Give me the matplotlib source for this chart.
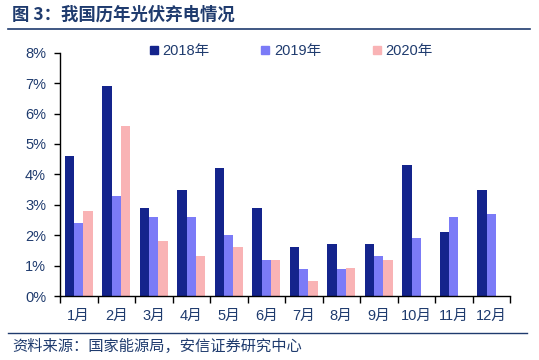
import numpy as np
import matplotlib.pyplot as plt
from matplotlib.lines import Line2D

plt.rcParams['font.family'] = ['Liberation Sans', 'Noto Sans CJK SC', 'DejaVu Sans']

months = ['1月', '2月', '3月', '4月', '5月', '6月', '7月', '8月', '9月', '10月', '11月', '12月']
curtail_2018 = [4.6, 6.9, 2.9, 3.5, 4.2, 2.9, 1.6, 1.7, 1.7, 4.3, 2.1, 3.5]
curtail_2019 = [2.4, 3.3, 2.6, 2.6, 2.0, 1.2, 0.9, 0.9, 1.3, 1.9, 2.6, 2.7]
curtail_2020 = [2.8, 5.6, 1.8, 1.3, 1.6, 1.2, 0.5, 0.93, 1.2]
series_names = ['2018年', '2019年', '2020年']

colors = ['#14248C', '#7B7BF7', '#F9B3B5']
text_color = '#1F3B6E'

fig = plt.figure(figsize=(5.39, 3.6), dpi=100)
ax = fig.add_axes([60 / 539, 64 / 360, 450 / 539, 243.3 / 360])

x = np.arange(len(months))
w = 0.25
ax.bar(x - w, curtail_2018, w, color=colors[0], label=series_names[0])
ax.bar(x, curtail_2019, w, color=colors[1], label=series_names[1])
ax.bar(np.arange(len(curtail_2020)) + w, curtail_2020, w, color=colors[2], label=series_names[2])

ax.set_xlim(-0.5, len(months) - 0.5)
ax.set_ylim(0, 8)
ax.set_yticks(range(0, 9))
ax.set_yticklabels([f'{v}%' for v in range(0, 9)], color=text_color, fontsize=10.5)
ax.set_xticks(x)
ax.set_xticklabels(months, color=text_color, fontsize=10.5)
ax.set_xticks(np.arange(-0.5, len(months)), minor=True)
ax.tick_params(axis='x', which='major', length=0, pad=9)
ax.tick_params(axis='x', which='minor', length=5, direction='out', color='black', width=1)
ax.tick_params(axis='y', length=4, direction='out', width=1, pad=6)
for s in ['top', 'right']:
    ax.spines[s].set_visible(False)
ax.spines['left'].set_linewidth(1)
ax.spines['bottom'].set_linewidth(1)

handles = [Line2D([], [], marker='s', linestyle='', markersize=6, color=c) for c in colors]
ax.legend(handles, series_names, loc='center', bbox_to_anchor=(0.51, 1.005), ncol=3,
          frameon=False, fontsize=10.5, columnspacing=3.3, handletextpad=0.1, handlelength=1.0,
          labelcolor=text_color)

fig.text(12 / 539, 1 - 15 / 360, '图 3：我国历年光伏弃电情况', fontsize=12.5, fontweight='bold',
         color=text_color, va='center', ha='left', family=['Noto Sans CJK SC', 'DejaVu Sans'])
fig.add_artist(Line2D([8 / 539, 530 / 539], [1 - 29 / 360] * 2, color=text_color, linewidth=1.2))
fig.add_artist(Line2D([8 / 539, 527 / 539], [1 - 333 / 360] * 2, color=text_color, linewidth=1.0))
fig.text(12 / 539, 1 - 346 / 360, '资料来源：国家能源局，安信证券研究中心', fontsize=11, style='italic',
         color=text_color, va='center', ha='left', family=['Noto Sans CJK SC', 'DejaVu Sans'])

fig.savefig('out.png', dpi=100)
